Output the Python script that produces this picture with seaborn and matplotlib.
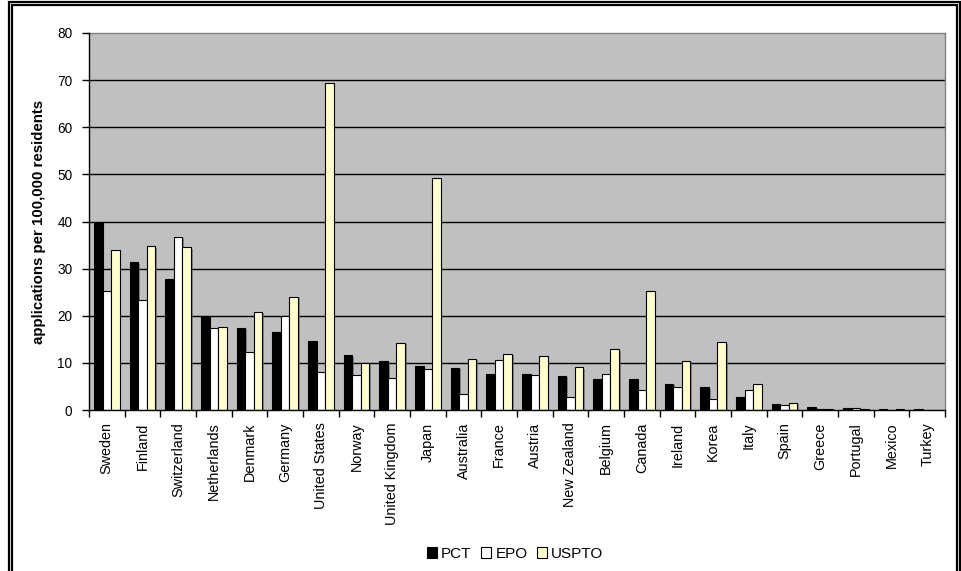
import matplotlib
matplotlib.use("Agg")
import matplotlib.pyplot as plt
import matplotlib.patheffects as pe
from matplotlib.patches import Rectangle
import seaborn as sns
import pandas as pd

countries = ["Sweden", "Finland", "Switzerland", "Netherlands", "Denmark", "Germany",
             "United States", "Norway", "United Kingdom", "Japan", "Australia", "France",
             "Austria", "New Zealand", "Belgium", "Canada", "Ireland", "Korea", "Italy",
             "Spain", "Greece", "Portugal", "Mexico", "Turkey"]
pct = [39.6, 31.3, 27.9, 20.0, 17.4, 16.6, 14.6, 11.6, 10.4, 9.4, 9.0, 7.7,
       7.7, 7.2, 6.6, 6.6, 5.6, 4.8, 2.8, 1.35, 0.64, 0.35, 0.15, 0.15]
epo = [25.2, 23.4, 36.7, 17.4, 12.4, 20.0, 8.1, 7.4, 6.7, 8.7, 3.3, 10.6,
       7.4, 2.8, 7.7, 4.3, 4.8, 2.3, 4.3, 1.0, 0.3, 0.35, 0.05, 0.02]
uspto = [33.9, 34.7, 34.5, 17.7, 20.9, 24.0, 69.4, 10.0, 14.2, 49.3, 10.8, 11.9,
         11.5, 9.1, 12.9, 25.2, 10.4, 14.4, 5.5, 1.56, 0.3, 0.15, 0.15, 0.05]
offices = ["PCT", "EPO", "USPTO"]
colors = ["#000000", "#FFFFFF", "#FFFFCC"]
y_ticks = [0, 10, 20, 30, 40, 50, 60, 70, 80]

df = pd.DataFrame({
    "country": countries * 3,
    "office": ["PCT"] * len(countries) + ["EPO"] * len(countries) + ["USPTO"] * len(countries),
    "value": pct + epo + uspto,
})

plt.rcParams["font.family"] = ["Liberation Sans", "DejaVu Sans"]

W, H = 962, 571
fig = plt.figure(figsize=(W / 100, H / 100), dpi=100)
ax = fig.add_axes([89 / W, (H - 410) / H, (945 - 89) / W, (410 - 33) / H])
ax.set_facecolor("#C0C0C0")

sns.barplot(data=df, x="country", y="value", hue="office", hue_order=offices,
            palette=colors, width=0.72, gap=0, edgecolor="black", linewidth=0.8,
            saturation=1, ax=ax, legend=False, zorder=3)

# soft drop shadow on the bars
for bar in ax.patches:
    bar.set_path_effects([pe.SimplePatchShadow(offset=(1.2, -1.0), shadow_rgbFace="#606060",
                                               alpha=0.6), pe.Normal()])

ax.set_ylim(0, 80)
ax.set_xlim(-0.5, len(countries) - 0.5)
ax.set_yticks(y_ticks)
ax.set_yticklabels([str(v) for v in y_ticks], fontsize=9.8)
ax.tick_params(axis="y", direction="out", length=5, width=1, color="black", pad=7)
for v in y_ticks[1:-1]:
    ax.axhline(v, color="black", lw=1, zorder=1)

ax.set_xticks(range(len(countries)))
ax.set_xticklabels(countries, rotation=90, fontsize=10.4)
ax.tick_params(axis="x", length=0, pad=9)
ax.set_xticks([i - 0.5 for i in range(len(countries) + 1)], minor=True)
ax.tick_params(axis="x", which="minor", direction="out", length=5, width=1, color="black")

ax.set_xlabel("")
ax.set_ylabel("applications per 100,000 residents", fontsize=10.8, fontweight="bold", labelpad=8)

for side in ["top", "right"]:
    ax.spines[side].set_color("#808080")
    ax.spines[side].set_linewidth(1)
for side in ["left", "bottom"]:
    ax.spines[side].set_color("black")
    ax.spines[side].set_linewidth(1)
    ax.spines[side].set_zorder(4)

handles = [Rectangle((0, 0), 1, 1, facecolor=c, edgecolor="black", lw=0.8) for c in colors]
fig.legend(handles, offices, loc="center", bbox_to_anchor=(515 / W, (H - 554) / H),
           ncol=3, frameon=False, fontsize=11, handlelength=0.7, handleheight=0.7,
           handletextpad=0.25, columnspacing=0.6, borderpad=0)

# double frame around the chart
for (x0, y0, x1) in [(9, 1.5, 960.5), (12.2, 4.6, 957.3)]:
    fig.add_artist(Rectangle((x0 / W, -0.1), (x1 - x0) / W, (H - y0) / H + 0.1,
                             transform=fig.transFigure, fill=False, edgecolor="black",
                             lw=1.6, clip_on=False))

fig.savefig("out.png", dpi=100)
